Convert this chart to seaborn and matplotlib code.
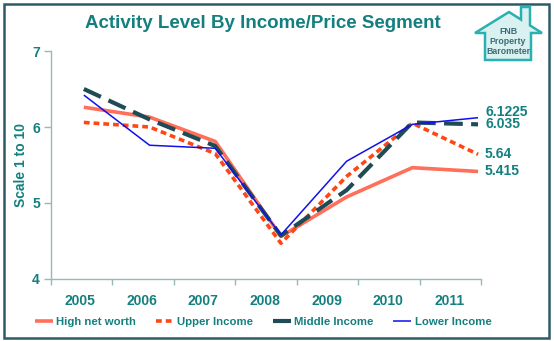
import matplotlib
matplotlib.use("Agg")
import matplotlib.pyplot as plt
import seaborn as sns
import pandas as pd
import numpy as np
from matplotlib.patches import Polygon, Rectangle

years = ["2005", "2006", "2007", "2008", "2009", "2010", "2011"]
high_net_worth = [6.26, 6.13, 5.81, 4.56, 5.08, 5.465, 5.415]
upper_income = [6.06, 6.00, 5.65, 4.47, 5.35, 6.05, 5.64]
middle_income = [6.50, 6.10, 5.75, 4.57, 5.17, 6.06, 6.035]
lower_income = [6.42, 5.76, 5.72, 4.58, 5.55, 6.035, 6.1225]
series_names = ["High net worth", "Upper Income", "Middle Income", "Lower Income"]
end_labels = ["5.415", "5.64", "6.035", "6.1225"]
y_ticks = [4, 5, 6, 7]

series_values = [high_net_worth, upper_income, middle_income, lower_income]
df = pd.DataFrame({
    "x": np.tile(np.arange(len(years)), len(series_names)),
    "value": np.concatenate(series_values),
    "series": np.repeat(series_names, len(years)),
})

sns.set_theme(style="white")
plt.rcParams["font.family"] = ["Liberation Sans", "DejaVu Sans"]

TEAL = "#13807f"
styles = {
    "High net worth": dict(color="#ff6f5a", lw=2.6, dashes=None),
    "Upper Income": dict(color="#ff4614", lw=2.6, dashes=(1.6, 1.1)),
    "Middle Income": dict(color="#1f4b55", lw=3.0, dashes=(4.5, 2.0)),
    "Lower Income": dict(color="#1010ee", lw=1.1, dashes=None),
}

fig = plt.figure(figsize=(5.54, 3.41), dpi=100)
W, H = 554, 341
ax = fig.add_axes([51 / W, (H - 279) / H, (481 - 51) / W, (279 - 51) / H])

for name in series_names:
    st = styles[name]
    sub = df[df["series"] == name]
    sns.lineplot(data=sub, x="x", y="value", ax=ax, color=st["color"],
                 linewidth=st["lw"], label=name, legend=False)
    line = ax.get_lines()[-1]
    if st["dashes"] is not None:
        line.set_dashes(st["dashes"])
    line.set_solid_capstyle("butt")
    line.set_dash_capstyle("butt")

ax.set_xlim(-0.50, 6.045)
ax.set_ylim(4, 7)
ax.set_yticks(y_ticks)
ax.set_yticklabels([str(v) for v in y_ticks], color=TEAL, fontweight="bold", fontsize=10)
label_pos = [-0.061 + 0.939 * i for i in range(len(years))]
ax.set_xticks(label_pos)
ax.set_xticklabels(years, color=TEAL, fontweight="bold", fontsize=10)
ax.set_xticks([-0.50 + 0.935 * i for i in range(8)], minor=True)
ax.tick_params(axis="x", which="major", length=0, pad=11)
ax.tick_params(axis="x", which="minor", length=4, color="#9bb8b8", width=1, direction="out")
ax.tick_params(axis="y", length=5, color="#9bb8b8", width=1, direction="out", pad=3)
ax.tick_params(axis="y", which="both", left=True)
ax.tick_params(axis="x", which="minor", bottom=True)
for s in ["top", "right"]:
    ax.spines[s].set_visible(False)
for s in ["left", "bottom"]:
    ax.spines[s].set_color("#9bb8b8")
    ax.spines[s].set_linewidth(1)
ax.set_xlabel("")
ax.set_ylabel("Scale 1 to 10", color=TEAL, fontweight="bold", fontsize=10, labelpad=3)
ax.grid(False)

# end-point labels
offsets = [0, 0, 0, 6]
for vals, lab, off in zip(series_values, end_labels, offsets):
    ax.annotate(lab, xy=(6, vals[-1]), xytext=(7, off), textcoords="offset pixels",
                color=TEAL, fontweight="bold", fontsize=10, va="center", ha="left",
                annotation_clip=False)

# title
fig.text(263 / W, 1 - 24 / H, "Activity Level By Income/Price Segment", color=TEAL,
         fontweight="bold", fontsize=13.5, ha="center", va="center")

# legend
handles = ax.get_lines()[:4]
leg = fig.legend(handles, series_names, loc="center", bbox_to_anchor=(263 / W, 1 - 322 / H),
                 ncol=4, frameon=False, handlelength=1.6, handletextpad=0.3,
                 columnspacing=1.7, prop={"weight": "bold", "size": 8.2})
for t in leg.get_texts():
    t.set_color(TEAL)

# outer frame
fig.patches.append(Rectangle((4 / W, 3 / H), (549 - 4) / W, (337 - 3) / H,
                             transform=fig.transFigure, fill=False,
                             edgecolor="#2d5a66", linewidth=1.8))

# logo house
hx = [475, 509, 521, 521, 530, 530, 542, 531, 531, 485, 485]
hy = [33, 12, 19.6, 7, 7, 25.4, 33, 33, 60, 60, 33]
pts = [(x / W, 1 - y / H) for x, y in zip(hx, hy)]
fig.patches.append(Polygon(pts, closed=True, transform=fig.transFigure,
                           facecolor="#d9f1f1", edgecolor="#2ab0b0", linewidth=1.8))
for yy, txt in [(31, "FNB"), (41, "Property"), (51, "Barometer")]:
    fig.text(508 / W, 1 - yy / H, txt, fontsize=6.3, fontweight="bold", color="#3d6b72",
             ha="center", va="center")

fig.savefig("out.png", dpi=100, facecolor="white")
